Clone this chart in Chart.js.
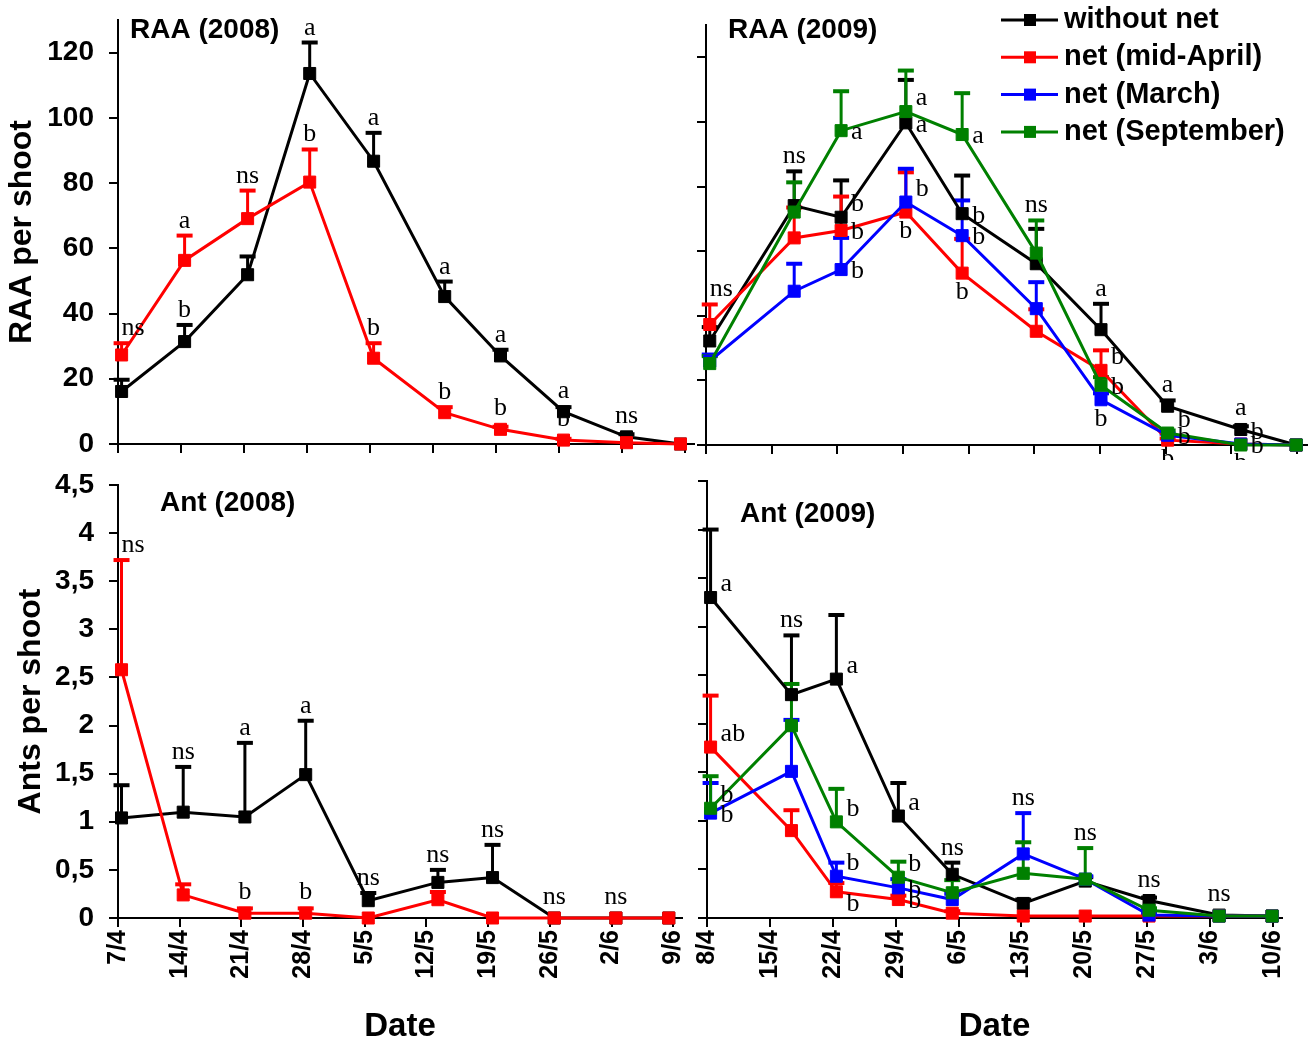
<!DOCTYPE html>
<html>
<head>
<meta charset="utf-8">
<script src="https://cdn.jsdelivr.net/npm/chart.js@4.4.0/dist/chart.umd.min.js"></script>
<style>
  html, body { margin: 0; padding: 0; background: #fff; }
  #page { position: relative; width: 1316px; height: 1042px; overflow: hidden; }
  #page canvas { position: absolute; }
</style>
</head>
<body>
<div id="page">
  <canvas id="raa2008" width="705" height="460" style="left:0;top:0"></canvas>
  <canvas id="raa2009" width="621" height="460" style="left:695px;top:0"></canvas>
  <canvas id="ant2008" width="705" height="582" style="left:0;top:460px"></canvas>
  <canvas id="ant2009" width="621" height="582" style="left:695px;top:460px"></canvas>
</div>
<script>
// ---- data ----
const seriesNames = ['without net', 'net (mid-April)', 'net (March)', 'net (September)'];
const seriesColors = ['#000000', '#ff0000', '#0000ff', '#008000'];

const tickLabels2008 = ['7/4', '14/4', '21/4', '28/4', '5/5', '12/5', '19/5', '26/5', '2/6', '9/6'];
const tickLabels2009 = ['8/4', '15/4', '22/4', '29/4', '6/5', '13/5', '20/5', '27/5', '3/6', '10/6'];
// sampling dates, in days after the first tick date
const sampleDays2008 = [0.4, 7.4, 14.4, 21.3, 28.4, 36.3, 42.5, 49.5, 56.5, 62.5];
const sampleDays2009 = [0.4, 9.4, 14.4, 21.3, 27.3, 35.2, 42.1, 49.2, 57.0, 62.9];

const raaTicks = [0, 20, 40, 60, 80, 100, 120];
const antTicks = [0, 0.5, 1, 1.5, 2, 2.5, 3, 3.5, 4, 4.5];

// RAA 2008
const raa2008Without = [16.1, 31.4, 51.9, 113.6, 86.7, 45.2, 27.0, 9.9, 2.2, 0];
const raa2008WithoutSE = [3.6, 5.1, 5.6, 9.5, 8.7, 4.6, 1.9, 1.4, 0.8, 0];
const raa2008WithoutLetters = ['', 'b', '', 'a', 'a', 'a', 'a', 'a', 'ns', ''];
const raa2008MidApril = [27.3, 56.3, 69.1, 80.3, 26.3, 9.6, 4.5, 1.2, 0.4, 0];
const raa2008MidAprilSE = [3.6, 7.6, 8.6, 10.0, 4.6, 1.7, 0.8, 0.4, 0, 0];
const raa2008MidAprilLetters = ['ns', 'a', 'ns', 'b', 'b', 'b', 'b', 'b', '', ''];

// RAA 2009
const raa2009Without = [32.2, 74.1, 70.5, 99.7, 71.6, 56.1, 35.7, 12.0, 4.8, 0];
const raa2009WithoutSE = [4.3, 10.6, 11.4, 13.3, 11.8, 10.8, 8.0, 1.8, 1.0, 0];
const raa2009WithoutLetters = ['', 'ns', 'b', 'a', 'b', '', 'a', 'a', 'a', ''];
const raa2009MidApril = [37.3, 64.1, 66.4, 72.1, 53.2, 35.2, 23.1, 1.5, 0.3, 0];
const raa2009MidAprilSE = [6.2, 9.4, 10.5, 12.3, 10.6, 6.8, 6.2, 0.5, 0, 0];
const raa2009MidAprilLetters = ['ns', '', 'b', 'b', 'b', '', 'b', 'b', 'b', ''];
const raa2009March = [26.0, 47.6, 54.3, 75.2, 64.8, 42.2, 14.0, 3.0, 0.3, 0];
const raa2009MarchSE = [2.0, 8.5, 9.8, 10.3, 10.9, 8.2, 2.0, 0.5, 0, 0];
const raa2009MarchLetters = ['', '', 'b', 'b', 'b', '', 'b', 'b', 'b', ''];
const raa2009September = [25.2, 72.1, 97.3, 103.2, 96.1, 59.4, 18.5, 3.7, 0, 0];
const raa2009SeptemberSE = [2.3, 9.2, 12.2, 12.7, 12.8, 10.1, 2.5, 0.8, 0, 0];
const raa2009SeptemberLetters = ['', '', 'a', 'a', 'a', 'ns', 'b', 'b', 'b', ''];

// Ants 2008
const ant2008Without = [1.04, 1.10, 1.05, 1.49, 0.18, 0.37, 0.42, 0, 0, 0];
const ant2008WithoutSE = [0.34, 0.47, 0.77, 0.56, 0.08, 0.13, 0.34, 0, 0, 0];
const ant2008WithoutLetters = ['', 'ns', 'a', 'a', 'ns', 'ns', 'ns', 'ns', 'ns', ''];
const ant2008MidApril = [2.58, 0.24, 0.05, 0.05, 0, 0.19, 0, 0, 0, 0];
const ant2008MidAprilSE = [1.14, 0.11, 0.05, 0.05, 0, 0.08, 0, 0, 0, 0];
const ant2008MidAprilLetters = ['ns', '', 'b', 'b', '', '', '', '', '', ''];

// Ants 2009
const ant2009Without = [3.30, 2.30, 2.46, 1.05, 0.45, 0.15, 0.38, 0.18, 0.03, 0.02];
const ant2009WithoutSE = [0.70, 0.61, 0.66, 0.34, 0.12, 0.04, 0.04, 0.03, 0, 0];
const ant2009WithoutLetters = ['a', 'ns', 'a', 'a', 'ns', '', '', 'ns', 'ns', ''];
const ant2009MidApril = [1.76, 0.90, 0.27, 0.19, 0.05, 0.02, 0.02, 0.02, 0.02, 0.02];
const ant2009MidAprilSE = [0.53, 0.21, 0.09, 0.04, 0.02, 0, 0, 0, 0, 0];
const ant2009MidAprilLetters = ['ab', '', 'b', 'b', '', '', '', '', '', ''];
const ant2009March = [1.08, 1.51, 0.43, 0.31, 0.19, 0.66, 0.40, 0.03, 0.02, 0.02];
const ant2009MarchSE = [0.31, 0.53, 0.14, 0.09, 0.06, 0.42, 0.03, 0.02, 0, 0];
const ant2009MarchLetters = ['b', '', 'b', 'b', '', 'ns', '', '', '', ''];
const ant2009September = [1.13, 1.98, 0.99, 0.42, 0.26, 0.46, 0.40, 0.08, 0.02, 0.02];
const ant2009SeptemberSE = [0.33, 0.43, 0.34, 0.16, 0.13, 0.32, 0.32, 0.02, 0, 0];
const ant2009SeptemberLetters = ['b', '', 'b', 'b', '', '', 'ns', '', '', ''];

// where each letter sits: t above error bar, tr above (left aligned),
// r right of point, ru right/up, rd right/down, b below point
const T10 = ['t', 't', 't', 't', 't', 't', 't', 't', 't', 't'];
const placeRaa2008MidApril = ['tr', 't', 't', 't', 't', 't', 't', 't', 't', 't'];
const placeRaa2009Without = ['t', 't', 'ru', 'r', 'r', 't', 't', 't', 't', 't'];
const placeRaa2009MidApril = ['tr', 't', 'r', 'b', 'b', 't', 'ru', 'b', 'b', 't'];
const placeRaa2009March = ['t', 't', 'r', 'ru', 'r', 't', 'b', 'r', 'r', 't'];
const placeRaa2009September = ['t', 't', 'r', 'ru', 'r', 't', 'r', 'ru', 'ru', 't'];
const placeAnt2008MidApril = ['tr', 't', 't', 't', 't', 't', 't', 't', 't', 't'];
const placeAnt2009Without = ['ru', 't', 'ru', 'ru', 't', 't', 't', 't', 't', 't'];
const placeAnt2009MidApril = ['ru', 't', 'rd', 'r', 't', 't', 't', 't', 't', 't'];
const placeAnt2009March = ['r', 't', 'ru', 'r', 't', 't', 't', 't', 't', 't'];
const placeAnt2009September = ['ru', 't', 'ru', 'ru', 't', 't', 't', 't', 't', 't'];

// ---- drawing ----
const SANS = '"Liberation Sans", Arial, sans-serif';
const SERIF = '"Liberation Serif", "Times New Roman", serif';
Chart.defaults.font.family = SANS;
Chart.defaults.color = '#000';

const errorBars = {
  id: 'errorBars',
  beforeDatasetsDraw(chart) {
    const ctx = chart.ctx;
    const ys = chart.scales.y;
    chart.data.datasets.forEach((ds, i) => {
      const pts = chart.getDatasetMeta(i).data;
      ctx.save();
      ctx.strokeStyle = ds.borderColor;
      pts.forEach((p, j) => {
        const e = ds.se[j];
        if (!e) return;
        const top = ys.getPixelForValue(ds.data[j].y + e);
        ctx.lineWidth = 3;
        ctx.beginPath();
        ctx.moveTo(p.x, p.y);
        ctx.lineTo(p.x, top);
        ctx.stroke();
        ctx.lineWidth = 4;
        ctx.beginPath();
        ctx.moveTo(p.x - 8, top);
        ctx.lineTo(p.x + 8, top);
        ctx.stroke();
      });
      ctx.restore();
    });
  }
};

const letterMarks = {
  id: 'letterMarks',
  afterDatasetsDraw(chart) {
    const ctx = chart.ctx;
    const ys = chart.scales.y;
    ctx.save();
    ctx.font = '26px ' + SERIF;
    ctx.fillStyle = '#000';
    chart.data.datasets.forEach((ds, i) => {
      const pts = chart.getDatasetMeta(i).data;
      ds.letters.forEach((txt, j) => {
        if (!txt) return;
        const p = pts[j];
        const place = ds.places[j];
        if (place === 't' || place === 'tr') {
          const top = ys.getPixelForValue(ds.data[j].y + ds.se[j]);
          ctx.textAlign = place === 't' ? 'center' : 'left';
          ctx.textBaseline = 'alphabetic';
          ctx.fillText(txt, p.x, Math.min(top - 8, p.y - 14));
        } else if (place === 'b') {
          ctx.textAlign = 'center';
          ctx.textBaseline = 'middle';
          ctx.fillText(txt, p.x, p.y + 19);
        } else {
          const dy = place === 'ru' ? -13 : place === 'rd' ? 12 : 2;
          ctx.textAlign = 'left';
          ctx.textBaseline = 'middle';
          ctx.fillText(txt, p.x + 10, p.y + dy);
        }
      });
    });
    ctx.restore();
  }
};

const panelText = {
  id: 'panelText',
  afterDraw(chart) {
    const o = chart.config.options.panel;
    const ctx = chart.ctx;
    ctx.save();
    ctx.fillStyle = '#000';
    ctx.textAlign = 'left';
    ctx.textBaseline = 'middle';
    ctx.font = 'bold 28px ' + SANS;
    ctx.fillText(o.title, o.titleX, o.titleY);
    if (o.legend) {
      ctx.font = 'bold 29px ' + SANS;
      seriesNames.forEach((name, i) => {
        const y = 20 + i * 37.3;
        ctx.strokeStyle = seriesColors[i];
        ctx.fillStyle = seriesColors[i];
        ctx.lineWidth = 3;
        ctx.beginPath();
        ctx.moveTo(306, y);
        ctx.lineTo(363, y);
        ctx.stroke();
        ctx.fillRect(329, y - 6, 12, 12);
        ctx.fillStyle = '#000';
        ctx.fillText(name, 369, y);
      });
    }
    ctx.restore();
  }
};

function noPad(s) {
  s.paddingTop = 0;
  s.paddingBottom = 0;
  s.paddingLeft = 0;
  s.paddingRight = 0;
}

function makePanel(id, o) {
  const weekTicks = o.xLabels.map((_, i) => i * 7);
  const datasets = o.series.map((s, i) => ({
    label: seriesNames[i],
    data: o.days.map((d, j) => ({ x: d, y: s.values[j] })),
    se: s.se,
    letters: s.letters,
    places: s.places,
    borderColor: seriesColors[i],
    backgroundColor: seriesColors[i],
    pointBackgroundColor: seriesColors[i],
    pointBorderColor: seriesColors[i],
    pointBorderWidth: 1,
    pointStyle: 'rect',
    pointRadius: 8.5,
    borderWidth: 3,
    tension: 0,
    clip: false,
    order: 4 - i
  }));
  return new Chart(document.getElementById(id), {
    type: 'line',
    data: { datasets },
    plugins: [errorBars, letterMarks, panelText],
    options: {
      responsive: false,
      animation: false,
      events: [],
      panel: o.panel,
      layout: { padding: { top: o.padTop, right: o.padRight, left: 0, bottom: 0 } },
      plugins: { legend: { display: false }, tooltip: { enabled: false } },
      scales: {
        x: {
          type: 'linear',
          min: 0,
          max: 64,
          afterBuildTicks: s => { s.ticks = weekTicks.map(v => ({ value: v })); },
          afterFit: s => { s.height = o.xHeight; noPad(s); },
          grid: { drawOnChartArea: false, drawTicks: true, tickLength: 9, color: '#000', lineWidth: 2 },
          border: { color: '#000', width: 2 },
          ticks: {
            display: o.showX,
            autoSkip: false,
            minRotation: 90,
            maxRotation: 90,
            padding: 3,
            color: '#000',
            font: { size: 25, weight: 'bold' },
            callback: (v, i) => o.xLabels[i]
          },
          title: {
            display: o.showX,
            text: 'Date',
            color: '#000',
            font: { size: 33, weight: 'bold', lineHeight: 0.9 },
            padding: 0
          }
        },
        y: {
          min: 0,
          max: o.yMax,
          afterBuildTicks: s => { s.ticks = o.yTicks.map(v => ({ value: v })); },
          afterFit: s => { s.width = o.yWidth; noPad(s); },
          grid: { drawOnChartArea: false, drawTicks: true, tickLength: 9, color: '#000', lineWidth: 2 },
          border: { color: '#000', width: 2 },
          ticks: {
            display: !!o.yTitle,
            padding: 15,
            color: '#000',
            font: { size: 28, weight: 'bold' },
            callback: v => String(v).replace('.', ',')
          },
          title: {
            display: !!o.yTitle,
            text: o.yTitle || '',
            color: '#000',
            font: { size: 32, weight: 'bold', lineHeight: 1 },
            padding: { top: o.yTitlePad || 0, bottom: 0 }
          }
        }
      }
    }
  });
}

makePanel('raa2008', {
  days: sampleDays2008, xLabels: tickLabels2008, showX: false,
  yMax: 130, yTicks: raaTicks, yTitle: 'RAA per shoot', yTitlePad: 6,
  padTop: 20, padRight: 11, yWidth: 118, xHeight: 16,
  panel: { title: 'RAA (2008)', titleX: 130, titleY: 30 },
  series: [
    { values: raa2008Without, se: raa2008WithoutSE, letters: raa2008WithoutLetters, places: T10 },
    { values: raa2008MidApril, se: raa2008MidAprilSE, letters: raa2008MidAprilLetters, places: placeRaa2008MidApril }
  ]
});

makePanel('raa2009', {
  days: sampleDays2009, xLabels: tickLabels2009, showX: false,
  yMax: 130, yTicks: raaTicks,
  padTop: 25, padRight: 4, yWidth: 11, xHeight: 15,
  panel: { title: 'RAA (2009)', titleX: 33, titleY: 30, legend: true },
  series: [
    { values: raa2009Without, se: raa2009WithoutSE, letters: raa2009WithoutLetters, places: placeRaa2009Without },
    { values: raa2009MidApril, se: raa2009MidAprilSE, letters: raa2009MidAprilLetters, places: placeRaa2009MidApril },
    { values: raa2009March, se: raa2009MarchSE, letters: raa2009MarchLetters, places: placeRaa2009March },
    { values: raa2009September, se: raa2009SeptemberSE, letters: raa2009SeptemberLetters, places: placeRaa2009September }
  ]
});

makePanel('ant2008', {
  days: sampleDays2008, xLabels: tickLabels2008, showX: true,
  yMax: 4.5, yTicks: antTicks, yTitle: 'Ants per shoot', yTitlePad: 15,
  padTop: 25, padRight: 23, yWidth: 118, xHeight: 124,
  panel: { title: 'Ant (2008)', titleX: 160, titleY: 43 },
  series: [
    { values: ant2008Without, se: ant2008WithoutSE, letters: ant2008WithoutLetters, places: T10 },
    { values: ant2008MidApril, se: ant2008MidAprilSE, letters: ant2008MidAprilLetters, places: placeAnt2008MidApril }
  ]
});

makePanel('ant2009', {
  days: sampleDays2009, xLabels: tickLabels2009, showX: true,
  yMax: 4.5, yTicks: antTicks,
  padTop: 21, padRight: 34, yWidth: 12, xHeight: 124,
  panel: { title: 'Ant (2009)', titleX: 45, titleY: 54 },
  series: [
    { values: ant2009Without, se: ant2009WithoutSE, letters: ant2009WithoutLetters, places: placeAnt2009Without },
    { values: ant2009MidApril, se: ant2009MidAprilSE, letters: ant2009MidAprilLetters, places: placeAnt2009MidApril },
    { values: ant2009March, se: ant2009MarchSE, letters: ant2009MarchLetters, places: placeAnt2009March },
    { values: ant2009September, se: ant2009SeptemberSE, letters: ant2009SeptemberLetters, places: placeAnt2009September }
  ]
});
</script>
</body>
</html>
